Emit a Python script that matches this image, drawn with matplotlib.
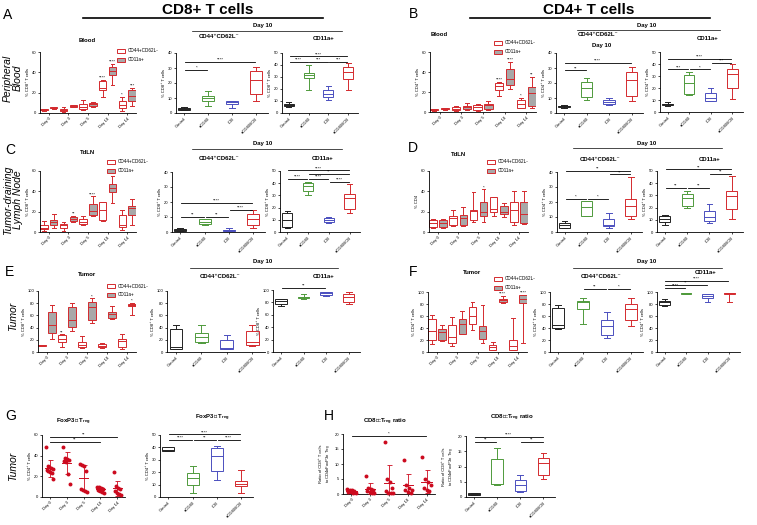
import matplotlib
matplotlib.use('Agg')
import matplotlib.pyplot as plt
from matplotlib.patches import Patch
import numpy as np

W, H = 757, 525
plt.rcParams['font.family'] = ['Liberation Sans', 'DejaVu Sans']

RED = '#d42a2e'
GREY = '#a8a8a8'
GROUP_COLORS = ['#222222', '#4f9a3c', '#4b4fbf', '#d42a2e']

days = ['Day 0', 'Day 3', 'Day 5', 'Day 10', 'Day 14']
groups = ['Control', 'αCD40', 'ICB', 'αCD40/ICB']

# box stats per group: (min, q1, median, q3, max)
# significance bars: (from group, to group, label, height)

# A - CD8, blood
a_time_cd44 = [(2, 2.5, 3, 3.5, 4), (1, 2, 3, 4, 6), (3, 4, 6, 9, 13), (16, 23, 25, 31, 32.5), (2, 5, 8, 11.5, 16)]
a_time_cd11a = [(4, 4.5, 5, 5.5, 6), (5.5, 6, 6.5, 7.5, 8), (6, 7, 8.5, 10, 11), (27.5, 37.5, 41, 45.5, 48), (7, 11.5, 17, 22.5, 25)]
a_time_star44 = ['', '', '', '****', '*']
a_time_star11 = ['', '', '', '****', '***']
a_d10_cd44 = [(1.8, 2.2, 2.7, 3.3, 4), (5, 7.8, 10, 11.2, 14.5), (3.3, 6, 7.5, 7.8, 8), (8, 12.7, 22, 27.8, 31)]
a_d10_cd44_sig = [(0, 1, '*', 29), (0, 3, '****', 34)]
a_d10_cd11a = [(5, 5.5, 7, 7.5, 9.5), (19.5, 29, 31.5, 33.5, 40), (11, 13.7, 16, 19.2, 22.5), (19, 28, 34, 38.5, 41.5)]
a_d10_cd11a_sig = [(0, 1, '****', 42.6), (1, 2, '***', 42.6), (2, 3, '***', 42.6), (0, 3, '****', 47.3)]

# B - CD4, blood
b_time_cd44 = [(1.5, 2, 2.5, 3, 3.5), (1, 1.7, 3, 5, 6), (1.5, 2.3, 5, 6.7, 8.5), (16, 22, 26, 29, 30.5), (4, 4, 8, 11.7, 14)]
b_time_cd11a = [(2.5, 3, 3.5, 4, 4.5), (2, 3.5, 5, 6.5, 9), (2, 3.3, 7, 8.3, 11), (23, 26.7, 33, 43.3, 50), (4, 5.7, 19, 25, 35)]
b_time_star44 = ['', '', '', '****', '*']
b_time_star11 = ['', '', '', '****', '**']
b_d10_cd44 = [(3.5, 4, 4.5, 5, 5.5), (8.5, 10.5, 17, 21, 23.5), (5.5, 6, 7.5, 9, 10), (8, 11.6, 22, 27.6, 31)]
b_d10_cd44_sig = [(0, 1, '**', 28.4), (0, 3, '****', 33.3)]
b_d10_cd11a = [(5, 5.5, 6.5, 7, 8), (14, 15.3, 24, 30.5, 33.5), (9, 9.5, 12, 16, 20), (11, 20.3, 31.5, 35.5, 40)]
b_d10_cd11a_sig = [(0, 1, '***', 35.5), (1, 2, '*', 35.5), (2, 3, '***', 41), (0, 3, '****', 44)]

# C - CD8, TdLN
c_time_cd44 = [(1, 2.6, 4, 6.6, 11), (1, 4, 6.5, 8.2, 10), (7, 7.5, 10, 13, 16), (11, 11.5, 22, 29.5, 30), (2, 5, 7, 17, 22)]
c_time_cd11a = [(4, 7.2, 10, 12, 17.5), (10, 11, 13, 15, 16), (16, 16.5, 21, 28, 35), (29, 39, 43, 47.5, 55), (7, 17, 24, 25.6, 32)]
c_time_star44 = ['', '', '', '', '']
c_time_star11 = ['', '**', '****', '', '']
c_d10_cd44 = [(0.5, 0.7, 1.3, 1.8, 2.5), (4.5, 5.5, 7, 8.4, 9), (0.4, 0.7, 1.2, 1.6, 3), (3, 5, 9, 12.2, 14.5)]
c_d10_cd44_sig = [(0, 1, '**', 10), (1, 2, '**', 10), (2, 3, '****', 15), (0, 3, '****', 19.3)]
c_d10_cd11a = [(3.5, 4, 10, 15.6, 17), (30, 34, 37.5, 40, 41), (7, 8.2, 10, 11.5, 12), (15.5, 19, 28, 31, 39)]
c_d10_cd11a_sig = [(0, 1, '****', 43.7), (1, 2, '****', 43.7), (2, 3, '****', 41), (1, 3, '**', 47.8), (0, 3, '****', 50.5)]

# D - CD4, TdLN
d_time_cd44 = [(4, 5, 9, 12, 13), (6, 7, 14, 16, 22), (10, 12, 21, 22, 39), (16, 20, 23, 34, 34), (7, 10, 22, 30, 40)]
d_time_cd11a = [(4, 5, 9, 11.5, 13), (6, 6.5, 14, 16.4, 25), (10, 15.4, 20, 29.5, 42), (15, 18, 20, 26, 29), (8, 8.5, 18, 29.5, 40)]
d_time_star44 = ['', '', '', '', '']
d_time_star11 = ['', '', '*', '', '']
d_d10_cd44 = [(2.7, 2.7, 5, 6.2, 7.5), (10.5, 10.5, 16.5, 20.4, 21), (3, 4, 5, 8.4, 12.5), (8.5, 10.5, 17.5, 21.8, 36.5)]
d_d10_cd44_sig = [(0, 1, '*', 22), (1, 2, '*', 22), (2, 3, '**', 38.4), (0, 3, '**', 41)]
d_d10_cd11a = [(6, 8.2, 10.5, 12.8, 14), (20, 21, 28, 31.4, 34), (7, 9, 12, 17, 23), (11, 18.6, 29.5, 33.6, 45.5)]
d_d10_cd11a_sig = [(0, 1, '**', 36), (1, 2, '**', 36), (2, 3, '**', 47.8), (0, 3, '**', 51.4)]

# E - CD8, tumor
e_time_cd44 = [(10, 10.5, 11, 11.5, 12), (8, 16, 22, 28, 29), (7, 8, 12, 17, 26), (7, 8, 10, 12.5, 14), (5, 7.6, 18, 22, 30)]
e_time_cd11a = [(21, 30.6, 45, 66, 77), (35, 41.5, 52, 74, 80), (47, 53, 74, 82.5, 88), (54, 56, 63, 66, 75), (60, 75, 77, 79, 80)]
e_time_star44 = ['', '**', '', '', '']
e_time_star11 = ['', '', '*', '', '*']
e_d10_cd44 = [(5, 5, 9, 37.7, 45), (15, 17, 24, 31, 44), (5, 5, 6, 19.7, 28), (10, 11, 16, 34, 44)]
e_d10_cd44_sig = []
e_d10_cd11a = [(75, 77, 83, 85, 86), (86, 87, 88, 89, 93), (91, 92.4, 95, 96, 97), (78, 80, 88, 94, 97)]
e_d10_cd11a_sig = [(0, 2, '**', 103.8)]

# F - CD4, tumor
f_time_cd44 = [(14, 19.4, 35, 54.4, 62), (10, 15.5, 25, 44.4, 58), (37, 47, 60, 75, 83), (3, 4, 8, 11, 16), (3, 3.5, 10, 19.4, 57)]
f_time_cd11a = [(19, 20, 34, 39, 45), (30, 30.5, 46, 55.5, 68), (15, 22, 35, 43, 78), (82, 83, 87, 89, 93), (15, 82, 89, 94.4, 95)]
f_time_star44 = ['', '', '', '', '']
f_time_star11 = ['', '', '', '****', '****']
f_d10_cd44 = [(39, 40, 45, 73, 78), (47, 71, 84, 85, 90), (24, 28, 44, 53, 67), (43, 54, 72, 80.5, 90)]
f_d10_cd44_sig = [(1, 2, '**', 105.5), (2, 3, '*', 105.5)]
f_d10_cd11a = [(77, 79, 83, 85, 88), (97, 97.5, 98, 98.5, 99), (83, 90, 93, 96.6, 97), (84, 97.5, 98, 98.5, 99)]
f_d10_cd11a_sig = [(0, 1, '****', 106.7), (0, 2, '**', 112), (0, 3, '****', 118)]

# G - FoxP3+ Treg, tumor
g_time_points = [[48, 30, 29, 28, 27, 26, 25, 24, 23, 17],
                 [48, 38, 37, 36, 35, 34, 22, 13],
                 [32, 31, 30, 25, 8, 7, 6, 5],
                 [10, 10, 9, 8, 7, 6, 5, 4],
                 [24, 11, 9, 8, 6, 4, 3, 2]]
g_time_sig = [(0, 3, '**', 53.5), (0, 4, '**', 58.4)]
g_box = [(37, 37.3, 38, 40, 40.5), (3.5, 9.5, 15, 19.7, 25), (14, 21, 33, 39.7, 41), (3.5, 8.6, 10.5, 12.7, 22)]
g_box_sig = [(0, 1, '****', 46), (1, 2, '**', 46), (2, 3, '****', 46), (0, 3, '****', 50.5)]

# H - CD8:Treg ratio
h_time_points = [[1.8, 1.5, 1.2, 1.0, 0.8, 0.6, 0.5, 0.3],
                 [6, 2, 1.8, 1.5, 1, 0.8, 0.5, 0.3],
                 [17.5, 5, 4, 2, 1, 0.5, 0.3, 0.2],
                 [11.2, 3, 2, 1.5, 1.2, 0.7, 0.5],
                 [12.3, 5, 4, 3, 2, 1.5, 1]]
h_time_sig = [(0, 4, '*', 19.4)]
h_box = [(0.7, 0.8, 1, 1.2, 1.3), (4, 4.2, 4.3, 12.6, 16), (1.5, 1.9, 4, 5.7, 7.3), (6, 7.3, 11.2, 12.9, 14.5)]
h_box_sig = [(0, 1, '**', 18), (2, 3, '**', 18), (0, 3, '****', 19.7)]

TICK_FS = 3.0
STAR_FS = 3.2

fig = plt.figure(figsize=(W / 100, H / 100), dpi=100)


def add_ax(x0, x1, ytop, ybot):
    return fig.add_axes([x0 / W, 1 - ybot / H, (x1 - x0) / W, (ybot - ytop) / H])


def ftext(x, y, s, **kw):
    fig.text(x / W, 1 - y / H, s, ha=kw.pop('ha', 'center'), va=kw.pop('va', 'center'), **kw)


def hline(x0, x1, y, lw):
    fig.add_artist(plt.Line2D([x0 / W, x1 / W], [1 - y / H, 1 - y / H], color='black', lw=lw))


def style(ax, ymax, ystep, labels, ylabel, xlim):
    ax.set_ylim(0, ymax)
    ax.set_yticks(np.arange(0, ymax + 0.1, ystep))
    ax.set_xlim(*xlim)
    ax.set_xticks(range(len(labels)))
    ax.set_xticklabels(labels, rotation=45, ha='right', rotation_mode='anchor')
    for s in ['top', 'right']:
        ax.spines[s].set_visible(False)
    for s in ['left', 'bottom']:
        ax.spines[s].set_linewidth(0.6)
    ax.tick_params(length=1.5, width=0.5, labelsize=TICK_FS, pad=1)
    ax.set_ylabel(ylabel, fontsize=TICK_FS, labelpad=1.5)
    ax.patch.set_alpha(0)


def draw_boxes(ax, stats, pos, edges, face, width):
    st = [dict(whislo=s[0], q1=s[1], med=s[2], q3=s[3], whishi=s[4], fliers=[]) for s in stats]
    lp = dict(lw=0.7)
    art = ax.bxp(st, positions=pos, widths=width, patch_artist=True, showfliers=False,
                 manage_ticks=False, boxprops=lp, whiskerprops=lp, capprops=lp, medianprops=lp)
    for k, b in enumerate(art['boxes']):
        b.set_facecolor(face)
        b.set_edgecolor(edges[k])
    for k, w in enumerate(art['whiskers']):
        w.set_color(edges[k // 2])
    for k, c in enumerate(art['caps']):
        c.set_color(edges[k // 2])
    for k, m in enumerate(art['medians']):
        m.set_color(edges[k])


def sig_bars(ax, bars):
    for i, j, lab, y in bars:
        ax.plot([i + 0.04, j - 0.04], [y, y], color='black', lw=0.6, clip_on=False)
        ax.text((i + j) / 2, y, lab, ha='center', va='bottom', fontsize=STAR_FS, clip_on=False)


def time_panel(rect, ymax, ystep, ylabel, cd44, cd11a, star44, star11):
    ax = add_ax(*rect)
    pos = np.arange(len(days))
    draw_boxes(ax, cd44, pos - 0.25, [RED] * 5, 'white', 0.38)
    draw_boxes(ax, cd11a, pos + 0.25, [RED] * 5, GREY, 0.38)
    for k in range(len(days)):
        for off, stats, stars in [(-0.25, cd44, star44), (0.25, cd11a, star11)]:
            if stars[k]:
                ax.text(k + off, stats[k][4], stars[k], ha='center', va='bottom',
                        fontsize=STAR_FS, clip_on=False)
    style(ax, ymax, ystep, days, ylabel, (-0.45, 4.45))
    return ax


def group_panel(rect, ymax, ystep, ylabel, stats, bars):
    ax = add_ax(*rect)
    draw_boxes(ax, stats, np.arange(4), GROUP_COLORS, 'white', 0.5)
    sig_bars(ax, bars)
    style(ax, ymax, ystep, groups, ylabel, (-0.35, 3.5))
    return ax


def scatter_panel(rect, ymax, ystep, ylabel, points, bars):
    ax = add_ax(*rect)
    for k, vals in enumerate(points):
        n = len(vals)
        offs = np.linspace(-0.22, 0.22, n)[np.argsort(np.arange(n) % 2 * n + np.arange(n))]
        ax.scatter(k + offs, vals, s=8, color='#cc0a1e', linewidths=0, zorder=3, clip_on=False)
        m, sd = np.mean(vals), np.std(vals, ddof=1)
        ax.errorbar(k, m, yerr=sd, fmt='none', ecolor='#cc0a1e', elinewidth=0.6,
                    capsize=1.8, capthick=0.6, zorder=4)
        ax.plot([k - 0.28, k + 0.28], [m, m], color='#cc0a1e', lw=0.7, zorder=4)
    sig_bars(ax, bars)
    style(ax, ymax, ystep, days, ylabel, (-0.45, 4.45))
    return ax


def legend(x, y):
    handles = [Patch(facecolor='white', edgecolor=RED, lw=0.7),
               Patch(facecolor=GREY, edgecolor=RED, lw=0.7)]
    fig.legend(handles, ['CD44+CD62L-', 'CD11a+'], loc='upper left',
               bbox_to_anchor=(x / W, 1 - y / H), frameon=False, fontsize=3.3,
               handlelength=1.8, handleheight=1.0, borderpad=0, borderaxespad=0,
               labelspacing=0.8, handletextpad=0.5)


CD8 = '% CD8⁺ T cells'
CD4 = '% CD4⁺ T cells'
SUB = 'CD44⁺CD62L⁻'
BOLD_S = dict(fontsize=4.3, fontweight='bold')

# ---- headers ----
ftext(208, 10, 'CD8+ T cells', fontsize=11, fontweight='bold')
hline(83, 323, 17.5, 1.2)
ftext(589, 10, 'CD4+ T cells', fontsize=11, fontweight='bold')
hline(470, 710, 18, 1.2)
for lab, x, y in [('A', 8, 15), ('B', 414, 14), ('C', 10, 150), ('D', 413, 148),
                  ('E', 9, 272), ('F', 413, 272), ('G', 11, 416), ('H', 329, 416)]:
    ftext(x, y, lab, fontsize=10)
for lab, y in [('Peripheral\nBlood', 78), ('Tumor-draining\nLymph Node', 200),
               ('Tumor', 316), ('Tumor', 466)]:
    ftext(13, y, lab, fontsize=7.5, style='italic', rotation=90, linespacing=1.0)

# ---- row A / B ----
ftext(87, 41, 'Blood', **BOLD_S)
ftext(263, 26, 'Day 10', **BOLD_S)
hline(192, 342, 30.5, 0.5)
ftext(219, 36, SUB, **BOLD_S)
ftext(324, 38, 'CD11a+', **BOLD_S)
time_panel((40, 136, 52, 113), 60, 20, CD8, a_time_cd44, a_time_cd11a, a_time_star44, a_time_star11)
legend(117, 48.5)
group_panel((176, 268, 53, 113), 40, 10, CD8, a_d10_cd44, a_d10_cd44_sig)
group_panel((282, 358, 53, 113), 50, 10, CD8, a_d10_cd11a, a_d10_cd11a_sig)

ftext(439, 34, 'Blood', **BOLD_S)
ftext(647, 25, 'Day 10', **BOLD_S)
hline(577, 720, 30, 0.5)
ftext(598, 35, SUB, **BOLD_S)
ftext(602, 45, 'Day 10', **BOLD_S)
ftext(708, 38, 'CD11a+', **BOLD_S)
time_panel((430, 536, 52, 112), 60, 20, CD4, b_time_cd44, b_time_cd11a, b_time_star44, b_time_star11)
legend(494, 40.5)
group_panel((556, 643, 53, 113), 40, 10, CD4, b_d10_cd44, b_d10_cd44_sig)
group_panel((660, 743, 52, 112), 50, 10, CD4, b_d10_cd11a, b_d10_cd11a_sig)

# ---- row C / D ----
ftext(88, 153, 'TdLN', **BOLD_S)
ftext(263, 144, 'Day 10', **BOLD_S)
hline(192, 342, 148.5, 0.5)
ftext(219, 158, SUB, **BOLD_S)
ftext(323, 158, 'CD11a+', **BOLD_S)
time_panel((40, 136, 171, 232), 60, 20, CD8, c_time_cd44, c_time_cd11a, c_time_star44, c_time_star11)
legend(107, 159.5)
group_panel((172, 265, 172, 232), 40, 10, CD8, c_d10_cd44, c_d10_cd44_sig)
group_panel((280, 360, 171, 232), 50, 10, CD8, c_d10_cd11a, c_d10_cd11a_sig)

ftext(459, 154, 'TdLN', **BOLD_S)
ftext(647, 144, 'Day 10', **BOLD_S)
hline(573, 722, 148, 0.5)
ftext(600, 159, SUB, **BOLD_S)
ftext(710, 159, 'CD11a+', **BOLD_S)
time_panel((429, 528, 171, 232), 60, 20, '% CD4', d_time_cd44, d_time_cd11a, d_time_star44, d_time_star11)
legend(487, 159.5)
group_panel((557, 642, 172, 232), 40, 10, CD4, d_d10_cd44, d_d10_cd44_sig)
group_panel((657, 743, 171, 232), 50, 10, CD4, d_d10_cd11a, d_d10_cd11a_sig)

# ---- row E / F ----
ftext(87, 274, 'Tumor', **BOLD_S)
ftext(263, 262, 'Day 10', **BOLD_S)
hline(190, 338, 268, 0.5)
ftext(220, 276, SUB, **BOLD_S)
ftext(324, 276, 'CD11a+', **BOLD_S)
time_panel((38, 136, 291, 352), 100, 20, CD8, e_time_cd44, e_time_cd11a, e_time_star44, e_time_star11)
legend(107, 283.5)
group_panel((167, 265, 291, 352), 100, 20, CD8, e_d10_cd44, e_d10_cd44_sig)
group_panel((273, 360, 290, 352), 100, 20, CD8, e_d10_cd11a, e_d10_cd11a_sig)

ftext(472, 273, 'Tumor', **BOLD_S)
ftext(647, 262, 'Day 10', **BOLD_S)
hline(573, 722, 268, 0.5)
ftext(601, 276, SUB, **BOLD_S)
ftext(706, 273, 'CD11a+', **BOLD_S)
time_panel((428, 527, 292, 352), 100, 20, CD4, f_time_cd44, f_time_cd11a, f_time_star44, f_time_star11)
legend(494, 276.5)
group_panel((550, 643, 292, 352), 100, 20, CD4, f_d10_cd44, f_d10_cd44_sig)
group_panel((657, 740, 292, 352), 100, 20, CD4, f_d10_cd11a, f_d10_cd11a_sig)

# ---- row G / H ----
TREG = 'FoxP3⁺ T$\\mathregular{_{reg}}$'
RATIO = 'CD8⁺:T$\\mathregular{_{reg}}$ ratio'
RATIO_Y = 'Ratio of CD8⁺ T cells\nto CD4⁺FoxP3⁺ T$\\mathregular{_{reg}}$'
ftext(73, 422, TREG, **BOLD_S)
ftext(212, 418, TREG, **BOLD_S)
ftext(385, 422, RATIO, **BOLD_S)
ftext(512, 418, RATIO, **BOLD_S)
scatter_panel((42, 125, 435, 497), 60, 20, CD4, g_time_points, g_time_sig)
group_panel((160, 253, 435, 497), 50, 10, CD4, g_box, g_box_sig)
scatter_panel((343, 435, 434, 494), 20, 5, RATIO_Y, h_time_points, h_time_sig)
group_panel((466, 555, 436, 497), 20, 5, RATIO_Y, h_box, h_box_sig)

fig.savefig('out.png', dpi=100)
